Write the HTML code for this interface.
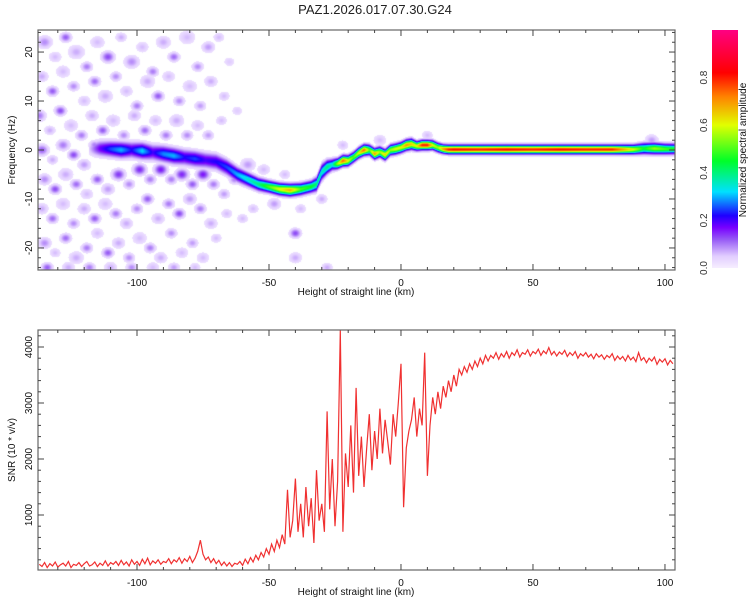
<!DOCTYPE html>
<html><head><meta charset="utf-8"><style>
body{margin:0;background:#fff;width:750px;height:600px;overflow:hidden;font-family:"Liberation Sans",sans-serif}
#hm{position:absolute;left:38px;top:30px}
svg{position:absolute;left:0;top:0}
</style></head><body>
<canvas id="hm" width="637" height="240"></canvas>
<svg id="s" width="750" height="600"></svg>
<script>
// ---- data ----
const snrStart=-137;
const snrValues=[120,80,150,60,130,90,160,70,110,140,
90,170,60,120,100,150,80,130,170,90,
110,160,80,140,100,180,90,150,120,170,
100,190,110,160,90,200,120,170,100,210,
130,230,110,180,140,200,120,170,150,220,
130,200,160,240,140,220,170,260,150,230,
350,550,300,200,250,150,220,130,190,100,
160,90,150,80,140,120,170,100,210,130,
240,160,280,200,330,250,400,300,480,350,
550,420,650,480,1450,600,900,1650,700,1200,
600,1500,800,1300,500,1800,900,1200,700,2850,
1100,2000,800,1600,4300,700,2100,1500,2600,1400,
3270,1700,2400,1500,2200,2800,1800,2500,2000,2900,
2100,2700,2300,1900,2800,2400,3000,3700,1140,2200,
2500,2700,3100,2400,2900,2600,3900,1700,2600,3100,
2800,3200,2900,3300,3100,3400,3200,3500,3300,3600,
3500,3650,3550,3700,3600,3750,3650,3800,3700,3850,
3750,3850,3800,3900,3780,3880,3820,3920,3800,3900,
3850,3950,3820,3900,3870,3950,3840,3920,3880,3960,
3850,3930,3880,3990,3860,3920,3840,3910,3870,3940,
3830,3900,3850,3920,3800,3880,3840,3900,3820,3870,
3790,3880,3820,3860,3780,3850,3810,3880,3760,3840,
3780,3830,3750,3850,3770,3820,3740,3900,3760,3810,
3720,3800,3750,3820,3690,3780,3730,3790,3680,3760,
3700];
const ridgeH=[-118,-114,-110,-106,-102,-98,-94,-90,-86,-82,-78,-74,-70,-66,-62,-58,-54,-50,-46,-42,-38,-34,-32,-30,-28,-26,-24,-22,-20,-18,-16,-14,-12,-10,-8,-6,-4,-2,0,2,4,6,8,10,12,14,16,18,20,30,40,50,60,70,80,88,92,96,100,104];
const ridgeF=[0.3,0.3,0.2,0,0,-0.2,-0.5,-0.8,-1.2,-1.5,-1.8,-2.1,-2.4,-3.5,-5,-6,-7,-7.5,-8,-8.2,-8,-7.5,-7,-4.5,-3.5,-3,-2.8,-2.2,-2.2,-1.5,-0.6,0,0,-0.8,-0.4,-1,0,0.2,0.5,1,1.2,0.8,1,1,1,0.5,0.2,0.1,0.1,0.1,0.1,0.1,0.1,0.1,0.1,0.1,0.3,0.3,0.2,0.2];
const ridgeA=[0.05,0.18,0.25,0.3,0.22,0.32,0.2,0.28,0.3,0.22,0.25,0.2,0.22,0.25,0.3,0.35,0.4,0.5,0.6,0.68,0.5,0.45,0.4,0.35,0.4,0.35,0.55,0.75,0.6,0.5,0.6,0.75,0.5,0.7,0.55,0.65,0.55,0.6,0.6,0.7,0.65,0.6,0.8,0.8,0.6,0.55,0.7,0.8,0.82,0.8,0.82,0.8,0.82,0.8,0.8,0.6,0.45,0.55,0.5,0.45];
const ridgeW=[1.4,1.4,1.4,1.4,1.4,1.4,1.4,1.4,1.4,1.4,1.4,1.4,1.4,1.4,1.3,1.2,1.1,1.0,1.0,1.0,1.0,1.0,1.2,1.4,1.2,1.0,0.9,0.9,0.9,0.9,0.9,0.9,0.9,0.9,0.9,0.9,0.9,0.9,0.9,0.9,0.9,0.8,0.8,0.8,0.8,0.8,0.75,0.75,0.75,0.75,0.75,0.75,0.75,0.75,0.75,0.8,0.95,0.95,0.9,0.9];
// noise blobs: [height km, freq Hz, amplitude, radius Hz]
const blobs=[
[-135,22,0.09,0.8],[-131,19,0.06,0.7],[-127,23,0.12,0.6],[-123,20,0.07,0.9],[-119,17,0.1,0.6],[-115,22,0.06,0.8],[-111,19,0.13,0.7],[-106,23,0.07,0.6],[-102,18,0.09,0.8],[-98,21,0.06,0.7],[-94,16,0.1,0.6],[-90,22,0.07,0.8],[-86,19,0.11,0.6],[-81,23,0.06,0.9],[-77,17,0.09,0.6],[-73,21,0.08,0.7],[-69,23,0.06,0.6],[-65,18,0.05,0.6],
[-136,15,0.07,0.7],[-132,12,0.12,0.6],[-128,16,0.06,0.8],[-124,13,0.09,0.6],[-120,10,0.06,0.7],[-116,14,0.11,0.6],[-112,11,0.07,0.8],[-108,15,0.09,0.6],[-104,12,0.06,0.7],[-100,9,0.1,0.6],[-96,14,0.07,0.8],[-92,11,0.12,0.6],[-88,15,0.06,0.7],[-84,10,0.09,0.6],[-80,13,0.06,0.8],[-76,9,0.08,0.6],[-72,14,0.07,0.7],[-67,11,0.06,0.6],[-62,8,0.05,0.6],
[-137,7,0.1,0.7],[-133,4,0.07,0.6],[-129,8,0.13,0.6],[-125,5,0.06,0.8],[-121,3,0.1,0.6],[-117,7,0.07,0.7],[-113,4,0.12,0.6],[-109,6,0.06,0.8],[-105,3,0.09,0.6],[-101,7,0.07,0.7],[-97,4,0.11,0.6],[-93,6,0.06,0.7],[-89,3,0.1,0.6],[-85,6,0.07,0.8],[-81,3,0.09,0.6],[-77,5,0.06,0.7],[-73,3,0.08,0.6],[-68,6,0.06,0.6],
[-136,0,0.12,0.7],[-132,-2,0.07,0.6],[-128,1,0.1,0.7],[-124,-1,0.13,0.6],[-120,-3,0.08,0.7],[-116,1,0.1,0.6],
[-135,-6,0.09,0.7],[-131,-8,0.13,0.6],[-127,-5,0.07,0.8],[-123,-7,0.11,0.6],[-119,-9,0.06,0.7],[-115,-6,0.12,0.6],[-111,-8,0.08,0.7],[-107,-5,0.14,0.7],[-103,-7,0.09,0.6],[-99,-4,0.15,0.7],[-95,-6,0.1,0.6],[-91,-4,0.16,0.7],[-87,-6,0.1,0.6],[-83,-5,0.15,0.7],[-79,-7,0.12,0.6],[-75,-5,0.16,0.7],[-71,-7,0.1,0.6],[-67,-9,0.08,0.6],[-63,-6,0.1,0.6],
[-136,-12,0.07,0.7],[-132,-14,0.11,0.6],[-128,-11,0.06,0.8],[-124,-15,0.09,0.6],[-120,-12,0.07,0.7],[-116,-14,0.12,0.6],[-112,-11,0.06,0.8],[-108,-13,0.1,0.6],[-104,-15,0.07,0.7],[-100,-12,0.09,0.6],[-96,-10,0.12,0.6],[-92,-14,0.07,0.7],[-88,-11,0.1,0.6],[-84,-13,0.13,0.6],[-80,-10,0.08,0.7],[-76,-12,0.1,0.6],[-72,-15,0.07,0.7],[-66,-13,0.06,0.6],[-60,-14,0.06,0.6],
[-135,-19,0.09,0.7],[-131,-21,0.06,0.6],[-127,-18,0.11,0.6],[-123,-22,0.07,0.8],[-119,-20,0.1,0.6],[-115,-17,0.06,0.7],[-111,-21,0.12,0.6],[-107,-19,0.07,0.7],[-103,-22,0.09,0.6],[-99,-18,0.06,0.8],[-95,-20,0.1,0.6],[-91,-22,0.07,0.7],[-87,-17,0.09,0.6],[-83,-21,0.06,0.7],[-79,-19,0.08,0.6],[-75,-22,0.06,0.7],[-70,-18,0.06,0.6],
[-134,-24,0.12,0.6],[-126,-24,0.07,0.7],[-118,-24,0.1,0.6],[-110,-24,0.07,0.7],[-102,-24,0.09,0.6],[-94,-24,0.06,0.7],[-86,-24,0.08,0.6],[-78,-24,0.06,0.6],
[-58,-3,0.08,0.8],[-56,-12,0.06,0.6],[-52,-4,0.06,0.7],[-48,-11,0.08,0.7],[-44,-5,0.06,0.6],[-40,-17,0.13,0.6],[-40,-22,0.07,0.7],[-38,-12,0.06,0.6],[-28,-24,0.07,0.6],[-30,-10,0.07,0.6],[-22,1,0.06,0.6],[-8,2,0.06,0.7],[10,3,0.06,0.6],[95,2,0.08,0.7]];
const xTicks=[-100,-50,0,50,100];
const fTicks=[20,10,0,-10,-20];
const snrTicks=[1000,2000,3000,4000];
const cbTicks=[0,0.2,0.4,0.6,0.8];

// ---- axes ----
const X0=38,X1=675,H0=-137.5,H1=103.8;
const xs=h=>X0+(h-H0)/(H1-H0)*(X1-X0);
const TY0=30,TY1=270,F0=-24.5,F1=24.5;
const yf=f=>TY1-(f-F0)/(F1-F0)*(TY1-TY0);
const BY0=330,BY1=570;
const ys=v=>571-v*0.056;

// colormap
const stops=[[0,[246,238,255]],[0.05,[225,205,255]],[0.12,[150,90,245]],[0.17,[120,0,255]],[0.22,[30,0,255]],[0.32,[0,225,255]],[0.45,[0,255,40]],[0.6,[225,255,0]],[0.72,[255,130,0]],[0.82,[255,0,0]],[1,[255,0,130]]];
function cmap(v){v=Math.min(1,Math.max(0,v));for(let i=1;i<stops.length;i++){if(v<=stops[i][0]){const a=stops[i-1],b=stops[i],t=(v-a[0])/(b[0]-a[0]);return a[1].map((c,k)=>Math.round(c+(b[1][k]-c)*t));}}return stops[stops.length-1][1];}
function interp(arr,h){if(h<=ridgeH[0])return arr[0];for(let i=1;i<ridgeH.length;i++){if(h<=ridgeH[i]){const t=(h-ridgeH[i-1])/(ridgeH[i]-ridgeH[i-1]);return arr[i-1]+(arr[i]-arr[i-1])*t;}}return arr[arr.length-1];}

// heatmap
const cv=document.getElementById('hm'),ctx=cv.getContext('2d');
const W=cv.width,Hh=cv.height,img=ctx.createImageData(W,Hh);
for(let px=0;px<W;px++){
 const h=H0+(px+0.5)/W*(H1-H0);
 const fc=interp(ridgeF,h),a=(h<ridgeH[0]?0:interp(ridgeA,h)),w=interp(ridgeW,h);
 for(let py=0;py<Hh;py++){
  const f=F1-(py+0.5)/Hh*(F1-F0);
  const d=(f-fc)/w;let v=a*Math.exp(-d*d);
  for(const b of blobs){const r=b[3]*1.5;const dx=(h-b[0])/(r*2.2),dy=(f-b[1])/r;const e=dx*dx+dy*dy;if(e<6)v=Math.max(v,b[2]*Math.exp(-e));}
  const o=(py*W+px)*4;
  if(v<0.02){img.data[o]=255;img.data[o+1]=255;img.data[o+2]=255;}
  else{const c=cmap(v);img.data[o]=c[0];img.data[o+1]=c[1];img.data[o+2]=c[2];}
  img.data[o+3]=255;
 }
}
ctx.putImageData(img,0,0);

// svg
const S=document.getElementById('s'),NS='http://www.w3.org/2000/svg';
function el(t,at,txt){const e=document.createElementNS(NS,t);for(const k in at)e.setAttribute(k,at[k]);if(txt!==undefined)e.textContent=txt;S.appendChild(e);return e;}
let e;
e=el('text',{x:375,y:14,'text-anchor':'middle','font-size':13,fill:'#222'},'PAZ1.2026.017.07.30.G24');



// snr line
let pts=snrValues.map((v,i)=>xs(snrStart+i).toFixed(1)+','+ys(v).toFixed(1)).join(' ');
e=el('polyline',{points:pts,fill:'none',stroke:'#f03030','stroke-width':1.2});



function frame(y0,y1,name){
 e=el('rect',{x:X0,y:y0,width:X1-X0,height:y1-y0,fill:'none',stroke:'#666','stroke-width':1.2});
 
 
 for(let h=-130;h<=100;h+=10){const x=xs(h),L=h%50===0?6:3;
  el('line',{x1:x,x2:x,y1:y1,y2:y1-L,stroke:'#444'});el('line',{x1:x,x2:x,y1:y0,y2:y0+L,stroke:'#444'});}
 xTicks.forEach(h=>{e=el('text',{x:xs(h),y:y1+16,'text-anchor':'middle','font-size':10,fill:'#111'},String(h));
  
  });
 e=el('text',{x:356,y:y1+25,'text-anchor':'middle','font-size':10,fill:'#111'},'Height of straight line (km)');
 
 
}
frame(TY0,TY1,'spectrogram-frame');frame(BY0,BY1,'snr-frame');
for(let f=-24;f<=24;f+=2){const y=yf(f),L=f%10===0?6:3;el('line',{x1:X0,x2:X0+L,y1:y,y2:y,stroke:'#444'});el('line',{x1:X1,x2:X1-L,y1:y,y2:y,stroke:'#444'});}
fTicks.forEach(f=>{const y=yf(f);e=el('text',{x:0,y:0,transform:`translate(32,${y}) rotate(-90)`,'text-anchor':'middle','font-size':10,fill:'#111'},String(f));
 
 });
e=el('text',{x:0,y:0,transform:'translate(15,150) rotate(-90)','text-anchor':'middle','font-size':10,fill:'#111'},'Frequency (Hz)');


for(let v=200;v<=4200;v+=200){const y=ys(v),L=v%1000===0?6:3;el('line',{x1:X0,x2:X0+L,y1:y,y2:y,stroke:'#444'});el('line',{x1:X1,x2:X1-L,y1:y,y2:y,stroke:'#444'});}
snrTicks.forEach(v=>{const y=ys(v);e=el('text',{x:0,y:0,transform:`translate(32,${y}) rotate(-90)`,'text-anchor':'middle','font-size':10,fill:'#111'},String(v));
 
 });
e=el('text',{x:0,y:0,transform:'translate(15,450) rotate(-90)','text-anchor':'middle','font-size':10,fill:'#111'},'SNR (10 * v/v)');



// colorbar
const defs=el('defs',{});const g=document.createElementNS(NS,'linearGradient');g.setAttribute('id','cb');g.setAttribute('x1',0);g.setAttribute('x2',0);g.setAttribute('y1',1);g.setAttribute('y2',0);defs.appendChild(g);
stops.forEach(s=>{const st=document.createElementNS(NS,'stop');st.setAttribute('offset',s[0]);st.setAttribute('stop-color',`rgb(${s[1].join(',')})`);g.appendChild(st);});
const CB0=30,CB1=268,cby=v=>CB1-v*(CB1-CB0)/1.0;
e=el('rect',{x:712,y:CB0,width:26,height:CB1-CB0,fill:'url(#cb)'});


cbTicks.forEach(v=>{e=el('text',{x:0,y:0,transform:`translate(707,${cby(v)}) rotate(-90)`,'text-anchor':'middle','font-size':10,fill:'#333'},v.toFixed(1));
 
 });
e=el('text',{x:0,y:0,transform:'translate(746,150) rotate(-90)','text-anchor':'middle','font-size':10,fill:'#111'},'Normalized spectral amplitude');


</script>
</body></html>
